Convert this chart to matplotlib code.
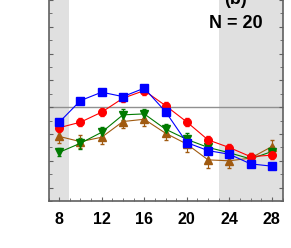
import numpy as np
import matplotlib
matplotlib.use('Agg')
import matplotlib.pyplot as plt
from matplotlib.ticker import MultipleLocator

# hours of day
hours = [8, 10, 12, 14, 16, 18, 20, 22, 24, 26, 28]

blue = [0.887, 1.049, 1.112, 1.079, 1.142, 0.967, 0.736, 0.676, 0.649, 0.577, 0.560]
blue_err = [0.02, 0.02, 0.02, 0.02, 0.02, 0.02, 0.02, 0.02, 0.02, 0.02, 0.02]

red = [0.847, 0.888, 0.963, 1.067, 1.124, 1.012, 0.890, 0.756, 0.699, 0.631, 0.642]
red_err = [0.03, 0.03, 0.03, 0.03, 0.03, 0.03, 0.03, 0.03, 0.03, 0.03, 0.03]

green = [0.663, 0.731, 0.813, 0.943, 0.950, 0.836, 0.760, 0.700, 0.660, 0.614, 0.669]
green_err = [0.03, 0.04, 0.04, 0.04, 0.04, 0.04, 0.05, 0.04, 0.04, 0.03, 0.04]

brown = [0.782, 0.743, 0.776, 0.893, 0.910, 0.806, 0.725, 0.607, 0.600, 0.620, 0.706]
brown_err = [0.05, 0.05, 0.05, 0.05, 0.05, 0.05, 0.06, 0.06, 0.05, 0.04, 0.05]

plt.rcParams['font.family'] = ['Liberation Sans Narrow', 'Liberation Sans', 'DejaVu Sans']

fig = plt.figure(figsize=(2.91, 2.48), dpi=100)
# axes runs a bit past the top of the picture (panel is cropped)
ax = fig.add_axes([48.5/291, 47/248, 234/291, 214.4/248])

ax.axvspan(7, 8.9, color='#e0e0e0', zorder=0, lw=0)
ax.axvspan(23, 29, color='#e0e0e0', zorder=0, lw=0)
ax.axhline(1.0, color='#909090', lw=1, zorder=1)

series = [
    (brown, brown_err, '#a05a10', '^'),
    (green, green_err, '#007a00', 'v'),
    (red, red_err, '#ff0000', 'o'),
    (blue, blue_err, '#0000ff', 's'),
]
for vals, err, col, mk in series:
    ax.errorbar(hours, vals, yerr=err, color=col, marker=mk, ms=5.5,
                lw=0.8, elinewidth=0.8, capsize=1.5, mec=col, zorder=3)

ax.set_xlim(7, 29)
ax.set_ylim(0.3, 1.9)
ax.xaxis.set_major_locator(MultipleLocator(4))
ax.xaxis.set_minor_locator(MultipleLocator(1))
ax.yaxis.set_major_locator(MultipleLocator(0.2))
ax.yaxis.set_minor_locator(MultipleLocator(0.1))
ax.tick_params(which='both', direction='in', top=True, right=True,
               color='#606060')
ax.tick_params(which='major', length=3)
ax.tick_params(which='minor', length=2)
ax.tick_params(axis='x', labelsize=11.5, pad=8)
ax.set_yticklabels([])
for lab in ax.get_xticklabels():
    lab.set_fontweight('bold')
for s in ax.spines.values():
    s.set_color('#606060')
    s.set_linewidth(1.2)

ax.text(24.6, 1.80, '(b)', ha='center', va='center', fontsize=13,
        fontweight='bold')
ax.text(24.6, 1.627, 'N = 20', ha='center', va='center', fontsize=13,
        fontweight='bold')

fig.savefig('out.png', dpi=100)
